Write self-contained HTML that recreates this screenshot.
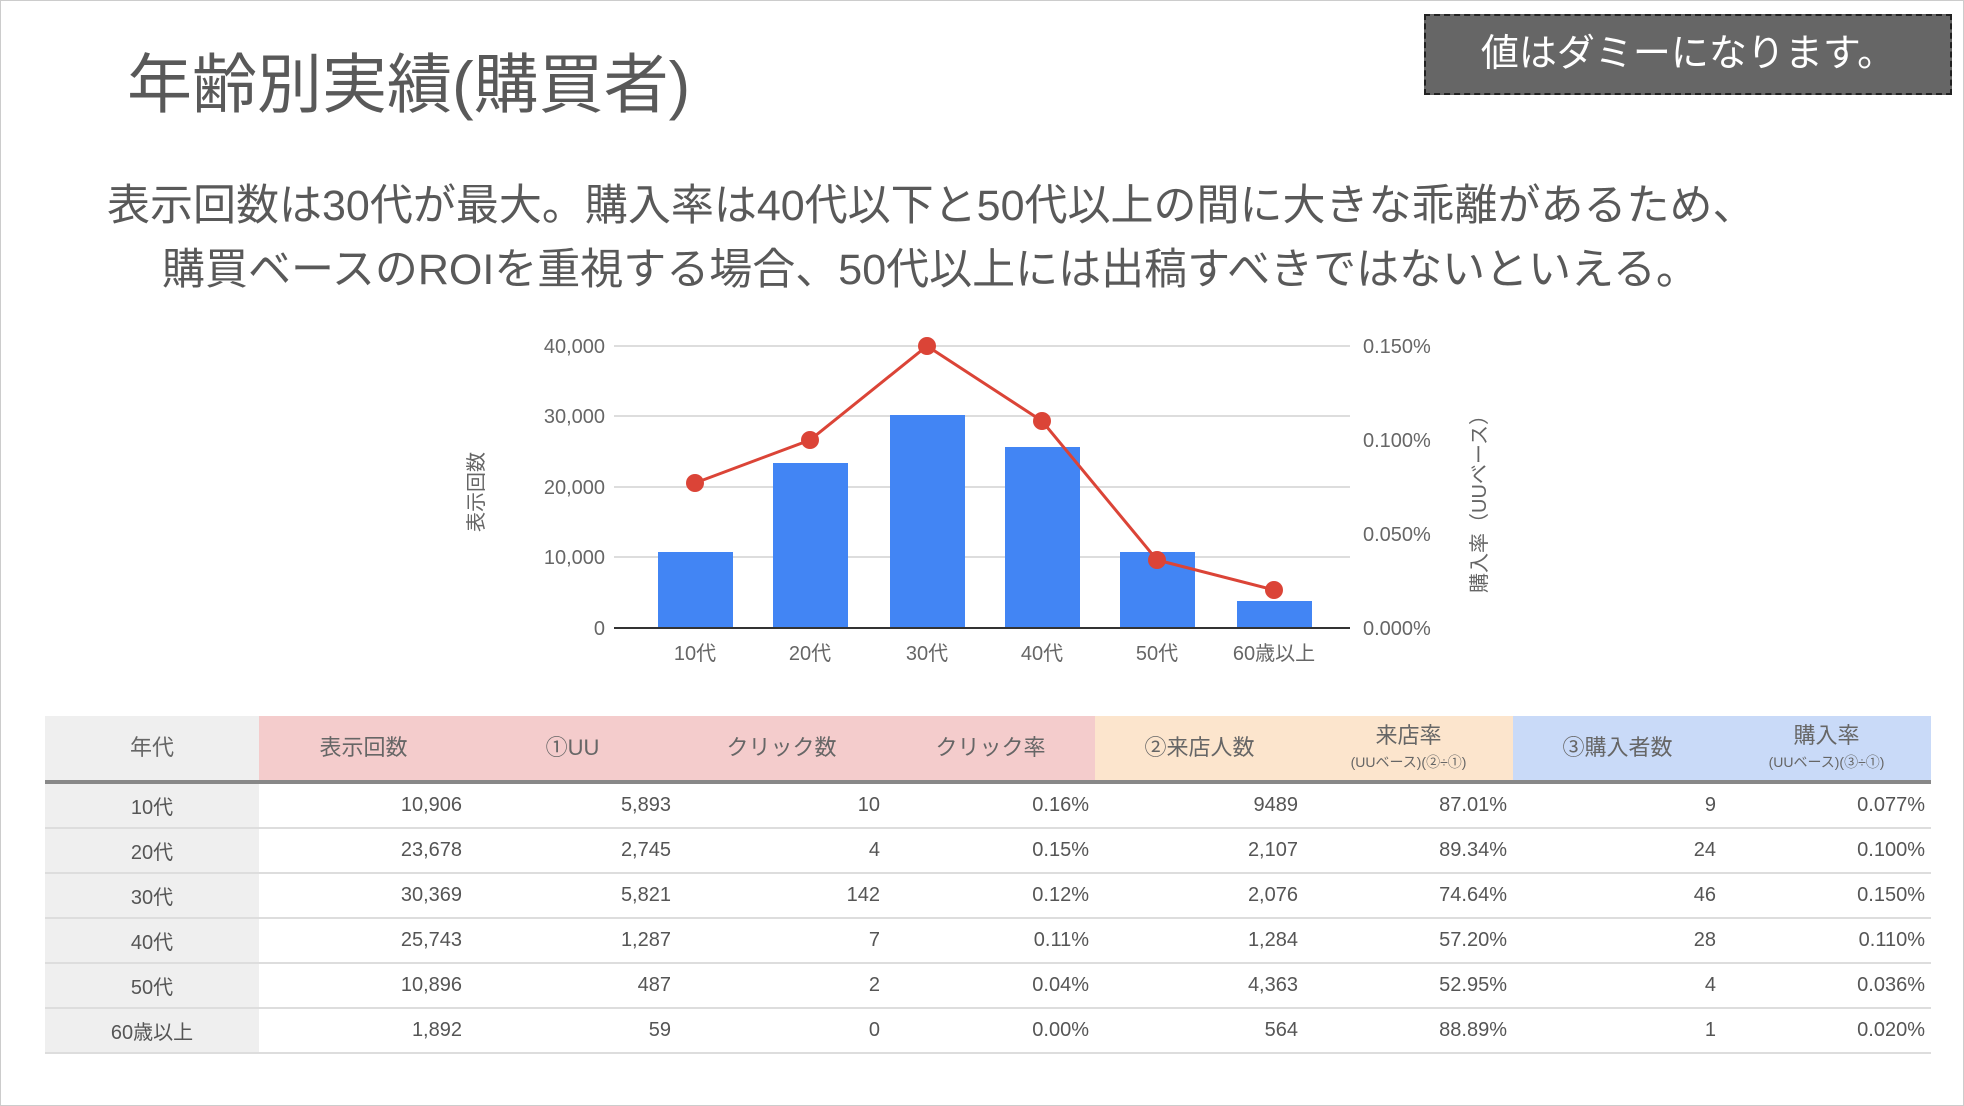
<!DOCTYPE html>
<html><head><meta charset="utf-8"><style>
body{margin:0;width:1964px;height:1106px;background:#fff;position:relative;overflow:hidden;font-family:"Liberation Sans","Noto Sans CJK JP",sans-serif;color:#595959}
.a{position:absolute;white-space:nowrap}
table{position:absolute;left:45px;top:716px;border-collapse:collapse;font-size:20px;color:#555}
td{height:43px;padding:0 6px 0 0;text-align:right;border-bottom:2px solid #ddd;width:203px}
td:first-child{background:#efefef;text-align:center;width:214px;padding:0}
th{font-weight:normal;height:64px;font-size:22px;color:#666;line-height:1.1;border-bottom:4px solid #888;padding:0}
th small{font-size:14px}
</style></head><body>
<div class="a" style="left:0;top:0;width:1962px;height:1104px;border:1px solid #ccc"></div>
<div class="a" style="left:127px;top:32px;font-size:65px;color:#595959">年齢別実績(購買者)</div>
<div class="a" style="left:1424px;top:14px;width:524px;height:77px;background:#666;border:2px dashed #222;color:#fff;font-size:38px;line-height:77px;text-align:center">値はダミーになります。</div>
<div class="a" style="left:107px;top:171px;font-size:43px">表示回数は30代が最大。購入率は40代以下と50代以上の間に大きな乖離があるため、</div>
<div class="a" style="left:162px;top:235px;font-size:43px">購買ベースのROIを重視する場合、50代以上には出稿すべきではないといえる。</div>
<svg class="a" style="left:0;top:0" width="1964" height="720" font-family="Liberation Sans, Noto Sans CJK JP, sans-serif" font-size="20" fill="#666">
<g stroke="#ddd" stroke-width="2"><line x1="614" x2="1350" y1="346" y2="346"/><line x1="614" x2="1350" y1="416" y2="416"/><line x1="614" x2="1350" y1="487" y2="487"/><line x1="614" x2="1350" y1="557" y2="557"/></g>
<g fill="#4285f4"><rect x="658" y="552" width="75" height="76"/><rect x="773" y="463" width="75" height="165"/><rect x="890" y="415" width="75" height="213"/><rect x="1005" y="447" width="75" height="181"/><rect x="1120" y="552" width="75" height="76"/><rect x="1237" y="601" width="75" height="27"/></g>
<line x1="614" x2="1350" y1="628" y2="628" stroke="#333" stroke-width="2"/>
<g text-anchor="end"><text x="605" y="353">40,000</text><text x="605" y="423">30,000</text><text x="605" y="494">20,000</text><text x="605" y="564">10,000</text><text x="605" y="635">0</text></g>
<g><text x="1363" y="353">0.150%</text><text x="1363" y="447">0.100%</text><text x="1363" y="541">0.050%</text><text x="1363" y="635">0.000%</text></g>
<g text-anchor="middle"><text x="695" y="660">10代</text><text x="810" y="660">20代</text><text x="927" y="660">30代</text><text x="1042" y="660">40代</text><text x="1157" y="660">50代</text><text x="1274" y="660">60歳以上</text></g>
<text transform="translate(483,492) rotate(-90)" text-anchor="middle">表示回数</text>
<text transform="translate(1486,499) rotate(-90)" text-anchor="middle">購入率（UUベース）</text>
<polyline fill="none" stroke="#db4437" stroke-width="3" points="695,483 810,440 927,346 1042,421 1157,560 1274,590"/>
<g fill="#db4437"><circle cx="695" cy="483" r="9"/><circle cx="810" cy="440" r="9"/><circle cx="927" cy="346" r="9"/><circle cx="1042" cy="421" r="9"/><circle cx="1157" cy="560" r="9"/><circle cx="1274" cy="590" r="9"/></g>
</svg>
<table>
<tr><th style="background:#efefef">年代</th><th style="background:#f4cccc">表示回数</th><th style="background:#f4cccc">①UU</th><th style="background:#f4cccc">クリック数</th><th style="background:#f4cccc">クリック率</th><th style="background:#fce5cd">②来店人数</th><th style="background:#fce5cd">来店率<br><small>(UUベース)(②÷①)</small></th><th style="background:#c9daf8">③購入者数</th><th style="background:#c9daf8">購入率<br><small>(UUベース)(③÷①)</small></th></tr>
<tr><td>10代</td><td>10,906</td><td>5,893</td><td>10</td><td>0.16%</td><td>9489</td><td>87.01%</td><td>9</td><td>0.077%</td></tr>
<tr><td>20代</td><td>23,678</td><td>2,745</td><td>4</td><td>0.15%</td><td>2,107</td><td>89.34%</td><td>24</td><td>0.100%</td></tr>
<tr><td>30代</td><td>30,369</td><td>5,821</td><td>142</td><td>0.12%</td><td>2,076</td><td>74.64%</td><td>46</td><td>0.150%</td></tr>
<tr><td>40代</td><td>25,743</td><td>1,287</td><td>7</td><td>0.11%</td><td>1,284</td><td>57.20%</td><td>28</td><td>0.110%</td></tr>
<tr><td>50代</td><td>10,896</td><td>487</td><td>2</td><td>0.04%</td><td>4,363</td><td>52.95%</td><td>4</td><td>0.036%</td></tr>
<tr><td>60歳以上</td><td>1,892</td><td>59</td><td>0</td><td>0.00%</td><td>564</td><td>88.89%</td><td>1</td><td>0.020%</td></tr>
</table>
</body></html>
